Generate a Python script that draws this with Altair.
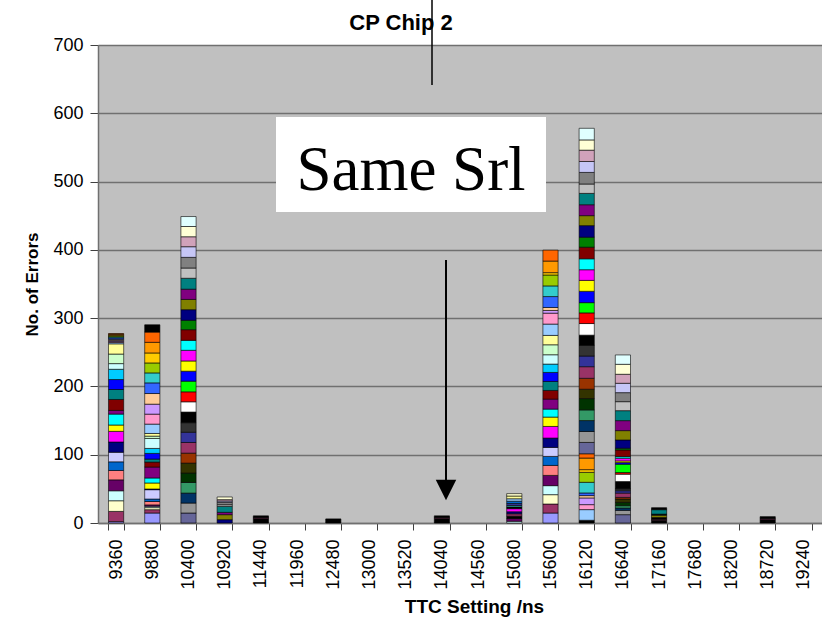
import altair as alt
import pandas as pd

# ---------------- data ----------------
CATEGORIES = ["9360", "9880", "10400", "10920", "11440", "11960", "12480", "13000",
              "13520", "14040", "14560", "15080", "15600", "16120", "16640", "17160",
              "17680", "18200", "18720", "19240"]

# Excel default series colour sequence (series 1..60)
PALETTE = ["#9999FF", "#993366", "#FFFFCC", "#CCFFFF", "#660066", "#FF8080", "#0066CC", "#CCCCFF",
           "#000080", "#FF00FF", "#FFFF00", "#00FFFF", "#800080", "#800000", "#008080", "#0000FF",
           "#00CCFF", "#CCFFFF", "#CCFFCC", "#FFFF99", "#99CCFF", "#FF99CC", "#CC99FF", "#FFCC99",
           "#3366FF", "#33CCCC", "#99CC00", "#FFCC00", "#FF9900", "#FF6600", "#666699", "#969696",
           "#003366", "#339966", "#003300", "#333300", "#993300", "#993366", "#333399", "#333333",
           "#000000", "#FFFFFF", "#FF0000", "#00FF00", "#0000FF", "#FFFF00", "#FF00FF", "#00FFFF",
           "#800000", "#008000", "#000080", "#808000", "#800080", "#008080", "#C0C0C0", "#808080",
           "#C6C6F6", "#D0A2BA", "#FFFFD6", "#E0FFFF"]

# series index / value for each stacked segment, bottom to top
S_9360 = list(range(0, 30))
V_9360 = [2, 15, 15.6, 14.6, 16, 13.7, 12.7, 14, 15, 15.6, 9.3, 16, 5.4, 16, 14.6, 14.6, 15, 8.3, 14, 15,
          2, 1.5, 1.5, 1.5, 2, 1.5, 1.5, 1.2, 1.2, 1.2]

S_9880 = [0, 1, 2, 3, 4, 5, 6, 7, 8, 10, 11, 12, 13, 14, 15, 16, 17, 18, 19, 20, 21, 22, 23, 24, 25, 26,
          27, 28, 29, 40]
V_9880 = [14.6, 4.9, 3, 2, 2, 5, 3.6, 13.7, 1, 8.8, 7.3, 16, 7.3, 4.4, 8.3, 7.3, 14.6, 3.4, 3.9, 13.7,
          14.6, 14.6, 15.6, 15.6, 14.6, 14.6, 14.6, 15.6, 15, 10.7]

S_10400 = list(range(30, 60))
V_10400 = [14.6, 14.6, 14.6, 15.6, 13.7, 14.6, 14.6, 15.6, 15, 14, 15.6, 15, 14.6, 15.6, 14.6, 15, 15.6,
           14.6, 15.6, 13.7, 15.6, 15, 15, 16, 15, 15.6, 15.6, 14.6, 15, 14.6]

S_10920 = [50, 51, 52, 53, 54, 55, 56, 57, 58]
V_10920 = [4.9, 7.3, 3.4, 8.8, 2.4, 3.4, 2, 2, 3.9]

S_11440 = [40, 37, 40]
V_11440 = [6.5, 1.5, 2.5]

S_12480 = [40]
V_12480 = [6]

S_14040 = [40, 37, 40]
V_14040 = [6.5, 1.5, 2.5]

S_15080 = [3, 4, 40, 1, 8, 9, 40, 25, 38, 6, 20, 19, 2]
V_15080 = [2.5, 4, 3.5, 3.5, 3, 4.5, 2.5, 2, 3, 3.5, 3.5, 4, 3.5]

S_15600 = list(range(0, 30))
V_15600 = [14.6, 13.2, 13.7, 13.2, 15, 14.6, 13.2, 13.2, 13.7, 17, 13.7, 11.7, 14.6, 12.7, 13.2, 13.2,
           12.2, 13.7, 14.6, 13.7, 16.6, 16, 3.9, 4.4, 16, 15.6, 16, 3.4, 17, 16]

S_16120 = [40] + list(range(20, 30)) + list(range(30, 60))
V_16120 = [4, 15.6, 7.3, 9.8, 3.4, 3.9, 15.6, 14.6, 3.9, 17, 6.3,
           16.6, 16, 16, 15.6, 16.6, 13.7, 16, 17, 15.6, 15.6,
           15, 17, 15.6, 15, 16.6, 16, 15.6, 16, 17, 14.6,
           17, 14.6, 16, 16.6, 13.7, 17, 16, 16.6, 15, 17]

S_16640 = list(range(30, 60))
V_16640 = [12.2, 6.3, 3.4, 3.4, 4.9, 4.9, 2.4, 6.3, 3.4, 2.9, 10.7, 10.7, 2.4, 12.2, 2.4, 2.4, 3.9, 2.4,
           9.8, 2.4, 12.2, 13.7, 14.6, 14.6, 13.2, 13.2, 13.7, 13.2, 14.6, 13.7]

S_17160 = [40, 37, 40, 51, 40, 53, 40]
V_17160 = [4, 1.5, 2.5, 3.5, 1.5, 6.5, 2.9]

S_18720 = [40, 37, 40]
V_18720 = [5, 1.5, 2.8]

BARS = [("9360", S_9360, V_9360), ("9880", S_9880, V_9880), ("10400", S_10400, V_10400),
        ("10920", S_10920, V_10920), ("11440", S_11440, V_11440), ("12480", S_12480, V_12480),
        ("14040", S_14040, V_14040), ("15080", S_15080, V_15080), ("15600", S_15600, V_15600),
        ("16120", S_16120, V_16120), ("16640", S_16640, V_16640), ("17160", S_17160, V_17160),
        ("18720", S_18720, V_18720)]

rows = []
for cat, series, vals in BARS:
    for k, (s, v) in enumerate(zip(series, vals)):
        rows.append({"cat": cat, "ord": k, "hex": PALETTE[s], "val": v})
df = pd.DataFrame(rows)

FONT = "Liberation Sans"

# ---------------- chart ----------------
bars = alt.Chart(df).mark_bar(stroke="black", strokeWidth=0.7, strokeOpacity=0.85).encode(
    x=alt.X("cat:O", sort=CATEGORIES,
            scale=alt.Scale(domain=CATEGORIES, paddingInner=0.58, paddingOuter=0.29),
            axis=alt.Axis(title="TTC Setting /ns", labelAngle=270, labelAlign="right",
                          labelBaseline="middle", labelFontSize=18, labelColor="black",
                          labelPadding=9, tickBand="extent", tickSize=7, tickColor="#404040",
                          domainColor="#707070", domainWidth=1.5, grid=False,
                          titleFontSize=19, titleFontWeight="bold", titleColor="black",
                          titleX=376, titleY=83, titleBaseline="middle", titleAlign="center")),
    y=alt.Y("val:Q", stack="zero", scale=alt.Scale(domain=[0, 700], nice=False),
            axis=alt.Axis(title="No. of Errors", values=list(range(0, 701, 100)),
                          grid=True, gridColor="#707070", gridWidth=1.6,
                          domainColor="#707070", domainWidth=1.5, tickColor="#404040",
                          tickSize=8, labelFontSize=18, labelColor="black", labelPadding=7,
                          titleFontSize=17, titleFontWeight="bold", titleColor="black",
                          titleX=-66, titleY=239, titleAngle=270, titleAlign="center",
                          titleBaseline="middle")),
    color=alt.Color("hex:N", scale=None),
    order=alt.Order("ord:Q"),
)

one = pd.DataFrame({"a": [0]})

box = alt.Chart(one).mark_rect(fill="white").encode(
    x=alt.value(178), x2=alt.value(448), y=alt.value(72), y2=alt.value(167))
box_text = alt.Chart(one).mark_text(text="Same Srl", font="Liberation Serif", fontSize=63,
                                    align="center", baseline="alphabetic", color="black").encode(
    x=alt.value(313), y=alt.value(145))

title = alt.Chart(one).mark_text(text="CP Chip 2", font=FONT, fontSize=22, fontWeight="bold",
                                 align="center", baseline="alphabetic", color="black").encode(
    x=alt.value(303), y=alt.value(-15))

vline = alt.Chart(one).mark_rule(color="black", strokeWidth=1.5).encode(
    x=alt.value(334), y=alt.value(-45), y2=alt.value(40))

arrow_line = alt.Chart(one).mark_rule(color="black", strokeWidth=2).encode(
    x=alt.value(348), y=alt.value(215), y2=alt.value(437))
arrow_head = alt.Chart(one).mark_point(shape="M-1,-1L1,-1L0,1Z", filled=True, fill="black",
                                       stroke="black", strokeWidth=0, opacity=1, size=420).encode(
    x=alt.value(348), y=alt.value(445))

chart = alt.layer(bars, box, box_text, title, vline, arrow_line, arrow_head).properties(
    width=724, height=478,
    autosize=alt.AutoSizeParams(type="none"),
    padding={"left": 98, "top": 45, "right": 0, "bottom": 97},
    background="white",
).configure(font=FONT).configure_view(fill="#C0C0C0", strokeWidth=0)

chart.save("out.html", embed_options={"renderer": "svg", "actions": False})
